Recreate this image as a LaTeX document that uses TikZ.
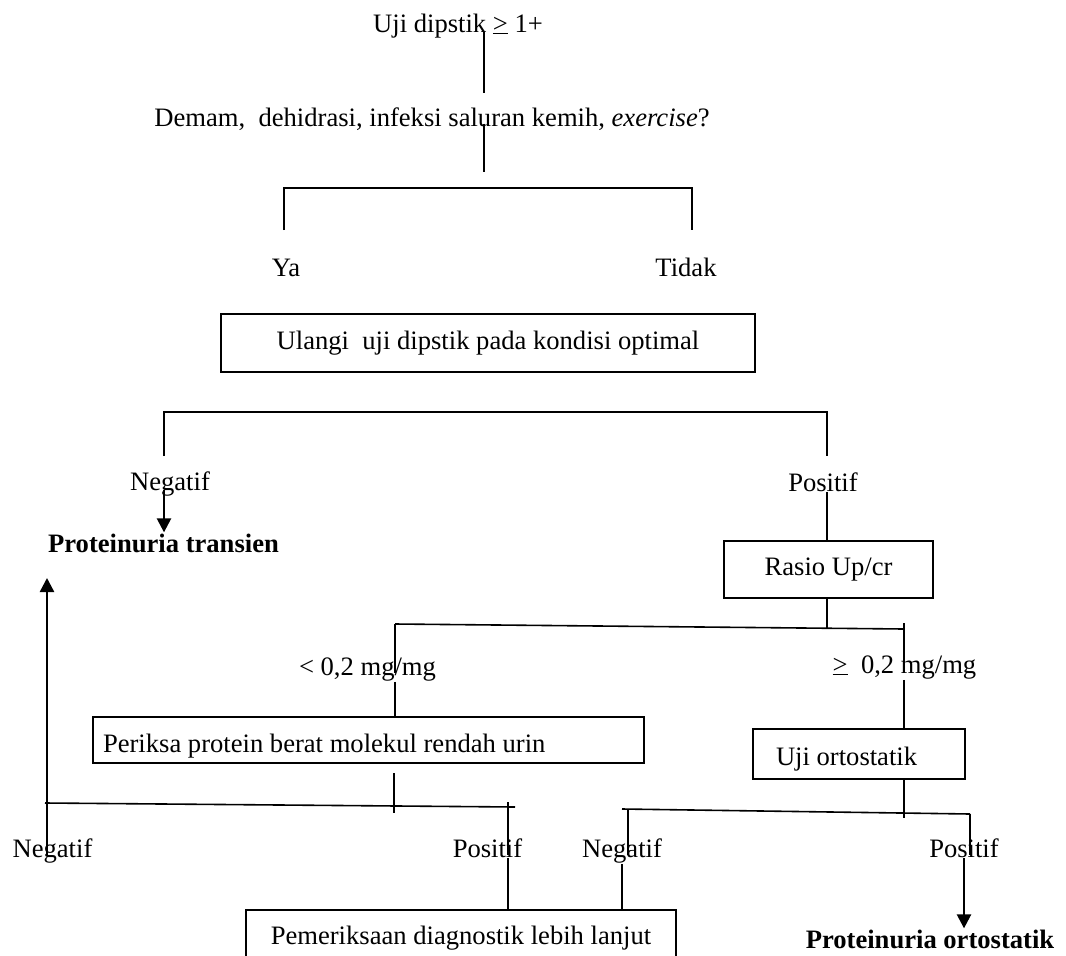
\documentclass[tikz,border=0pt]{standalone}
\usepackage{fontspec}
\setmainfont{Liberation Serif}
\usepackage{tikz}
\usetikzlibrary{arrows.meta,positioning}

\begin{document}
\begin{tikzpicture}[
    x=1pt, y=-1pt,
    font=\fontsize{26.6}{30}\selectfont,
    lbl/.style={anchor=base, inner sep=1pt},
    box/.style={draw, line width=1.6pt, inner sep=0pt},
    link/.style={line width=1.6pt},
    arr/.style={line width=2.5pt, -{Triangle[length=14pt,width=14pt]}}
]
\useasboundingbox (0,0) rectangle (1066,956);

% Uji dipstik and the question
\node[lbl] (dip) at (458,32) {Uji dipstik \underline{>} 1+};
\node[lbl] (dem) at (432,126) {Demam,\ \ dehidrasi, infeksi saluran kemih, \textit{exercise}?};
\coordinate (d1) at (484,93);
\coordinate (d2) at (484,172);
\draw[link] (d1 |- dip.base) -- (d1);
\draw[link] (d2 |- dem.mid) -- (d2);

% Ya / Tidak
\node[lbl] (ya) at (286,276) {Ya};
\node[lbl] (tdk) at (686,276) {Tidak};
\coordinate (ya1) at (284,188);
\coordinate (td1) at (692,188);
\draw[link] (ya1) ++(0,42) -- (ya1) -- (td1) -- ++(0,42);

\node[box, minimum width=534, minimum height=58] (ul) at (488,343) {Ulangi\ \ uji dipstik pada kondisi optimal};

% Negatif / Positif after repeat
\coordinate (ng1) at (164,412);
\coordinate (ps1) at (827,412);
\draw[link] (ng1) ++(0,44) -- (ng1) -- (ps1) -- ++(0,44);
\node[lbl] (neg1) at (170,490) {Negatif};
\node[lbl] (pos1) at (823,491) {Positif};
\node[lbl, font=\fontsize{26.6}{30}\selectfont\bfseries] (trans) at (163.5,552) {Proteinuria transien};
\draw[arr] (ng1 |- neg1.base) -- (ng1 |- trans.north);

\node[box, minimum width=209, minimum height=57] (rasio) at (828.5,569.5) {Rasio Up/cr};
\draw[link] (ps1 |- pos1.south) -- (ps1 |- rasio.north);
\coordinate (r1) at (827,628);
\draw[link] (ps1 |- rasio.south) -- (r1);

% Rasio Up/cr split
\coordinate (lo1) at (395,624);
\coordinate (hi1) at (904,629);
\draw[link] (lo1) -- (hi1);
\node[lbl] (lt) at (367.5,675) {< 0,2 mg/mg};
\node[lbl] (ge) at (904.5,673) {\underline{>}\ \ 0,2 mg/mg};
\draw[link] (hi1) ++(0,-6) -- (hi1 |- ge.mid);
\draw[link] (lo1) -- (lo1 |- lt.mid);

\node[box, minimum height=46, text width=531pt, inner xsep=10pt, align=flush left,
      text height=24pt, text depth=0pt] (per) at (368.5,740) {Periksa protein berat molekul rendah urin};
\node[box, minimum height=50, text width=166pt, inner xsep=23pt, align=flush left,
      text height=22pt, text depth=0pt] (uo) at (859,754) {Uji ortostatik};
\draw[link] (lo1 |- lt.south) -- (lo1 |- per.north);
\draw[link] (hi1 |- ge.south) -- (hi1 |- uo.north);

% after Periksa protein
\coordinate (l1) at (45,803);
\coordinate (l2) at (515,807);
\coordinate (k1) at (394,813);
\coordinate (p2) at (508,802);
\draw[link] (l1) -- (l2);
\draw[link] (k1) ++(0,-40) -- (k1);
\node[lbl] (neg2) at (52.5,857) {Negatif};
\node[lbl] (pos2) at (487.5,857) {Positif};
\coordinate (u2) at (47,578);
\draw[arr] (u2 |- neg2.mid) -- (u2);
\draw[link] (p2) -- (p2 |- pos2.mid);

% after Uji ortostatik
\coordinate (lo2) at (622,809);
\coordinate (hi2) at (970,814);
\coordinate (n3) at (628,809);
\draw[link] (lo2) -- (hi2);
\draw[link] (hi1 |- uo.south) -- ++(0,38);
\node[lbl] (neg3) at (622,857) {Negatif};
\node[lbl] (pos3) at (964,857) {Positif};
\draw[link] (hi2) -- (hi2 |- pos3.mid);
\draw[link] (n3) -- (n3 |- neg3.mid);
\node[lbl, font=\fontsize{26.6}{30}\selectfont\bfseries] (orto) at (930,948) {Proteinuria ortostatik};
\draw[arr] (pos3.south) -- (pos3.south |- orto.north);

\node[box, minimum width=430, minimum height=56] (pem) at (461,938) {Pemeriksaan diagnostik lebih lanjut};
\draw[link] (p2 |- pos2.south) -- (p2 |- pem.north);
\draw[link] (neg3.south) -- (neg3.south |- pem.north);

\end{tikzpicture}
\end{document}
